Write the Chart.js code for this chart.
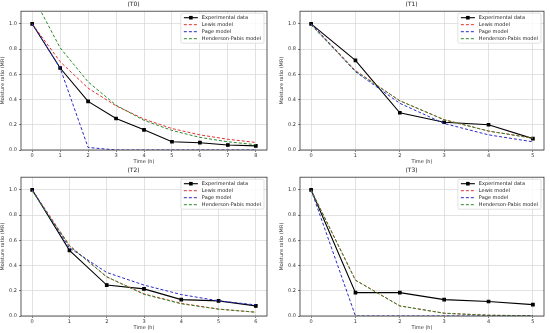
<!DOCTYPE html>
<html>
<head>
<meta charset="utf-8">
<script src="https://cdn.jsdelivr.net/npm/chart.js@4"></script>
<style>
html, body { margin: 0; padding: 0; background: #fff; width: 550px; height: 333px; overflow: hidden; }
.panel { position: absolute; }
</style>
</head>
<body>
<div class="panel" style="left:0;top:0"><canvas id="c0" width="275" height="166"></canvas></div>
<div class="panel" style="left:279px;top:0"><canvas id="c1" width="271" height="166"></canvas></div>
<div class="panel" style="left:0;top:166px"><canvas id="c2" width="275" height="166"></canvas></div>
<div class="panel" style="left:279px;top:166px"><canvas id="c3" width="271" height="166"></canvas></div>
<script>
// Données
const seriesNames = ['Experimental data', 'Lewis model', 'Page model', 'Henderson-Pabis model'];
const yTicks = [0.0, 0.2, 0.4, 0.6, 0.8, 1.0];

const timeT0 = [0, 1, 2, 3, 4, 5, 6, 7, 8];
const expT0 = [1.0, 0.65, 0.385, 0.25, 0.16, 0.065, 0.058, 0.04, 0.033];
const lewisT0 = [1.0, 0.70, 0.49, 0.35, 0.245, 0.17, 0.12, 0.085, 0.06];
const pageT0 = [1.0, 0.65, 0.02, 0.0, 0.0, 0.0, 0.0, 0.0, 0.0];
const hpT0 = [1.23, 0.81, 0.54, 0.355, 0.235, 0.155, 0.10, 0.065, 0.042];

const timeT1 = [0, 1, 2, 3, 4, 5];
const expT1 = [1.0, 0.71, 0.295, 0.22, 0.20, 0.09];
const lewisT1 = [1.0, 0.63, 0.39, 0.24, 0.15, 0.095];
const pageT1 = [1.0, 0.62, 0.37, 0.21, 0.12, 0.065];
const hpT1 = [0.99, 0.625, 0.39, 0.24, 0.15, 0.093];

const timeT2 = [0, 1, 2, 3, 4, 5, 6];
const expT2 = [1.0, 0.52, 0.245, 0.215, 0.13, 0.12, 0.08];
const lewisT2 = [1.0, 0.56, 0.31, 0.175, 0.10, 0.055, 0.03];
const pageT2 = [1.0, 0.54, 0.345, 0.245, 0.17, 0.12, 0.088];
const hpT2 = [0.99, 0.555, 0.31, 0.172, 0.097, 0.054, 0.03];

const timeT3 = [0, 1, 2, 3, 4, 5];
const expT3 = [1.0, 0.185, 0.185, 0.13, 0.115, 0.09];
const lewisT3 = [1.0, 0.285, 0.08, 0.022, 0.006, 0.002];
const pageT3 = [1.0, 0.0, 0.0, 0.0, 0.0, 0.0];
const hpT3 = [0.995, 0.283, 0.08, 0.022, 0.006, 0.002];

const FONT = '"DejaVu Sans", sans-serif';
const couleurs = ['#000000', '#e03030', '#2a2ac8', '#2a8a2a'];

// Cadre autour du graphique + légende dans la zone de tracé
const cadreLegende = {
    id: 'cadreLegende',
    afterDatasetsDraw(chart) {
        const ctx = chart.ctx;
        const a = chart.chartArea;
        ctx.save();
        ctx.strokeStyle = '#333';
        ctx.lineWidth = 0.8;
        ctx.strokeRect(a.left, a.top, a.right - a.left, a.bottom - a.top);

        ctx.font = '5px ' + FONT;
        const dsets = chart.data.datasets;
        const textW = Math.max(...dsets.map(d => ctx.measureText(d.label).width));
        const rowH = 7;
        const w = 21 + textW + 3;
        const h = rowH * dsets.length + 2;
        const x0 = a.right - w - 3;
        const y0 = a.top + 2;
        ctx.fillStyle = 'rgba(255,255,255,0.85)';
        ctx.strokeStyle = '#cccccc';
        ctx.lineWidth = 0.6;
        ctx.beginPath();
        ctx.roundRect(x0, y0, w, h, 1.5);
        ctx.fill();
        ctx.stroke();

        dsets.forEach((d, i) => {
            const y = y0 + 1 + rowH * (i + 0.5);
            ctx.strokeStyle = d.borderColor;
            ctx.lineWidth = d.borderWidth;
            ctx.setLineDash(d.borderDash || []);
            ctx.beginPath();
            ctx.moveTo(x0 + 3, y);
            ctx.lineTo(x0 + 17, y);
            ctx.stroke();
            ctx.setLineDash([]);
            if (d.pointRadius) {
                ctx.fillStyle = d.borderColor;
                ctx.fillRect(x0 + 10 - 1.8, y - 1.8, 3.6, 3.6);
            }
            ctx.fillStyle = '#222';
            ctx.textBaseline = 'middle';
            ctx.fillText(d.label, x0 + 21, y);
        });
        ctx.restore();
    }
};

function makeChart(id, titre, time, exp, lewis, page, hp, padRight) {
    const series = [exp, lewis, page, hp];
    const marge = 0.05 * (time[time.length - 1] - time[0]);
    const datasets = series.map((vals, i) => ({
        label: seriesNames[i],
        data: time.map((t, k) => ({ x: t, y: vals[k] })),
        borderColor: couleurs[i],
        backgroundColor: couleurs[i],
        borderWidth: i === 0 ? 1.1 : 1,
        borderDash: i === 0 ? [] : [3, 2],
        pointRadius: i === 0 ? 1.8 : 0,
        pointStyle: 'rect',
        tension: 0,
        order: 3 - i
    }));

    return new Chart(document.getElementById(id), {
        type: 'line',
        data: { datasets },
        plugins: [cadreLegende],
        options: {
            responsive: false,
            animation: false,
            devicePixelRatio: 1,
            layout: { padding: { left: 0, right: padRight, top: 0, bottom: 0 } },
            plugins: {
                legend: { display: false },
                tooltip: { enabled: false },
                title: {
                    display: true,
                    text: titre,
                    color: '#222',
                    font: { family: FONT, size: 6, weight: 'normal' },
                    padding: { top: 1, bottom: 3 }
                }
            },
            scales: {
                x: {
                    type: 'linear',
                    min: time[0] - marge,
                    max: time[time.length - 1] + marge,
                    afterBuildTicks: s => { s.ticks = time.map(v => ({ value: v })); },
                    afterFit: s => { s.height = 16; },
                    border: { display: false },
                    grid: { color: '#d6d6d6', lineWidth: 0.7, tickLength: 2, tickColor: '#444' },
                    ticks: { color: '#333', padding: 1, font: { family: FONT, size: 5 }, maxRotation: 0, callback: v => v },
                    title: { display: true, text: 'Time (h)', color: '#333', padding: { top: 0, bottom: 1 }, font: { family: FONT, size: 5 } }
                },
                y: {
                    min: 0,
                    max: 1.1,
                    afterBuildTicks: s => { s.ticks = yTicks.map(v => ({ value: v })); },
                    afterFit: s => { s.width = 21; },
                    border: { display: false },
                    grid: { color: '#d6d6d6', lineWidth: 0.7, tickLength: 2, tickColor: '#444' },
                    ticks: { color: '#333', padding: 2, font: { family: FONT, size: 5 }, callback: v => v.toFixed(1) },
                    title: { display: true, text: 'Moisture ratio (MR)', color: '#333', padding: { top: 0, bottom: 1 }, font: { family: FONT, size: 5 } }
                }
            }
        }
    });
}

makeChart('c0', '(T0)', timeT0, expT0, lewisT0, pageT0, hpT0, 8);
makeChart('c1', '(T1)', timeT1, expT1, lewisT1, pageT1, hpT1, 6);
makeChart('c2', '(T2)', timeT2, expT2, lewisT2, pageT2, hpT2, 8);
makeChart('c3', '(T3)', timeT3, expT3, lewisT3, pageT3, hpT3, 6);
</script>
</body>
</html>
